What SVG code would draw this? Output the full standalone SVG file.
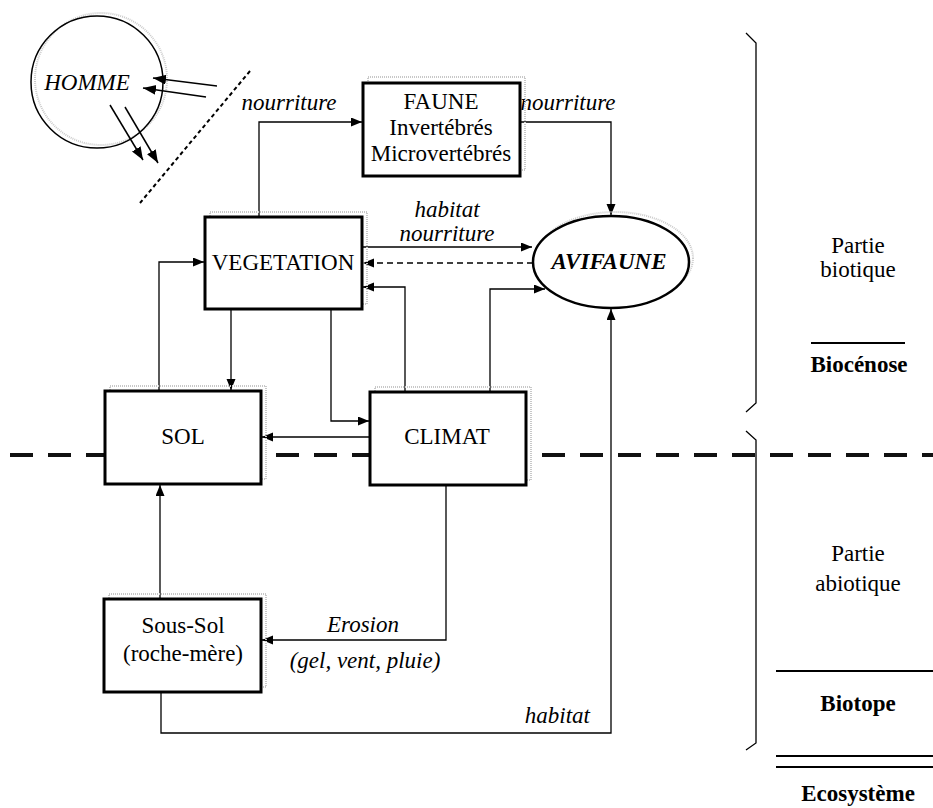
<svg xmlns="http://www.w3.org/2000/svg" width="933" height="808" viewBox="0 0 933 808">
<defs>
<marker id="ah" markerUnits="userSpaceOnUse" markerWidth="12" markerHeight="10" refX="11" refY="4.5" orient="auto"><path d="M0,0 L11,4.5 L0,9 z" fill="#000"/></marker>
<marker id="ahb" markerUnits="userSpaceOnUse" markerWidth="14" markerHeight="12" refX="13" refY="5" orient="auto"><path d="M0,0 L13,5 L0,10 z" fill="#000"/></marker>
</defs>
<style>
text{font-family:"Liberation Serif","Times New Roman",serif;fill:#000;font-size:23px}
.it{font-style:italic}
.bd{font-weight:bold}
.box{fill:#fff;stroke:#000;stroke-width:3}
.sh{fill:none;stroke:#c8c8c8;stroke-width:2;stroke-dasharray:1 1}
.c{fill:none;stroke:#000;stroke-width:1.3}
.m{text-anchor:middle}
</style>
<rect width="933" height="808" fill="#fff"/>

<g id="separator">
<line x1="10" y1="455" x2="933" y2="455" stroke="#111" stroke-width="4" stroke-dasharray="23 15"/>
</g>

<g id="homme">
<circle cx="101" cy="79" r="66" fill="none" stroke="#ccc" stroke-width="2" stroke-dasharray="1 1"/>
<circle cx="97" cy="82" r="66" fill="none" stroke="#000" stroke-width="1.5"/>
<text class="it m" x="87" y="90" font-size="24">HOMME</text>
<line x1="250" y1="71" x2="140" y2="203" stroke="#000" stroke-width="2" stroke-dasharray="4 3"/>
<line x1="217" y1="86" x2="153" y2="78" stroke="#000" stroke-width="1.5" marker-end="url(#ahb)"/>
<line x1="206" y1="97" x2="143" y2="88" stroke="#000" stroke-width="1.5" marker-end="url(#ahb)"/>
<line x1="110" y1="105" x2="143" y2="160" stroke="#000" stroke-width="1.5" marker-end="url(#ahb)"/>
<line x1="125" y1="107" x2="158" y2="163" stroke="#000" stroke-width="1.5" marker-end="url(#ahb)"/>
</g>

<g id="connectors">
<path class="c" d="M259,217 V122 H362" marker-end="url(#ah)"/>
<text class="it m" x="289" y="110">nourriture</text>
<path class="c" d="M520,122 H611 V215" marker-end="url(#ah)"/>
<text class="it m" x="568" y="110">nourriture</text>
<path class="c" d="M362,247 H532" marker-end="url(#ah)"/>
<text class="it m" x="447" y="217">habitat</text>
<text class="it m" x="447" y="241">nourriture</text>
<path class="c" d="M533,263 H363" stroke-dasharray="6 4" marker-end="url(#ah)"/>
<path class="c" d="M405,392 V287 H363" marker-end="url(#ah)"/>
<path class="c" d="M490,392 V289 H545" marker-end="url(#ah)"/>
<path class="c" d="M231,309 V390" marker-end="url(#ah)"/>
<path class="c" d="M331,309 V421 H369" marker-end="url(#ah)"/>
<path class="c" d="M159,391 V262 H204" marker-end="url(#ah)"/>
<path class="c" d="M370,437 H262" marker-end="url(#ah)"/>
<path class="c" d="M160,599 V485" marker-end="url(#ah)"/>
<path class="c" d="M446,485 V640 H262" marker-end="url(#ah)"/>
<text class="it m" x="363" y="632">Erosion</text>
<text class="it m" x="365" y="668">(gel, vent, pluie)</text>
<path class="c" d="M161,692 V733 H611 V309" marker-end="url(#ah)"/>
<text class="it" x="590" y="723" text-anchor="end">habitat</text>
</g>

<g id="faune">
<rect class="sh" x="368" y="77" width="157" height="93"/>
<rect class="box" x="363" y="83" width="157" height="93"/>
<text class="m" x="441" y="109">FAUNE</text>
<text class="m" x="441" y="135">Invertébrés</text>
<text class="m" x="441" y="161">Microvertébrés</text>
</g>

<g id="vegetation">
<rect class="sh" x="210" y="212" width="157" height="92"/>
<rect class="box" x="205" y="217" width="157" height="92"/>
<text class="m" x="283" y="270">VEGETATION</text>
</g>

<g id="avifaune">
<ellipse cx="615" cy="258" rx="78" ry="46" fill="none" stroke="#ccc" stroke-width="2" stroke-dasharray="1 1"/>
<ellipse cx="611" cy="262" rx="78" ry="46" fill="#fff" stroke="#000" stroke-width="2.5"/>
<text class="it bd m" x="609" y="269">AVIFAUNE</text>
</g>

<g id="sol">
<rect class="sh" x="110" y="386" width="156" height="93"/>
<rect class="box" x="105" y="391" width="156" height="93"/>
<text class="m" x="183" y="444">SOL</text>
</g>

<g id="climat">
<rect class="sh" x="375" y="387" width="156" height="93"/>
<rect class="box" x="370" y="392" width="156" height="93"/>
<text class="m" x="447" y="444">CLIMAT</text>
</g>

<g id="soussol">
<rect class="sh" x="109" y="594" width="157" height="93"/>
<rect class="box" x="104" y="599" width="157" height="93"/>
<text class="m" x="183" y="633">Sous-Sol</text>
<text class="m" x="183" y="661">(roche-mère)</text>
</g>

<g id="legend">
<path d="M746,33 L756,43 L756,403 L746,412" fill="none" stroke="#000" stroke-width="1.3"/>
<path d="M746,431 L756,440 L756,743 L746,750" fill="none" stroke="#000" stroke-width="1.3"/>
<text class="m" x="858" y="253">Partie</text>
<text class="m" x="858" y="277">biotique</text>
<line x1="811" y1="343" x2="905" y2="343" stroke="#000" stroke-width="1.8"/>
<text class="bd m" x="859" y="372">Biocénose</text>
<text class="m" x="858" y="561">Partie</text>
<text class="m" x="858" y="591">abiotique</text>
<line x1="776" y1="671" x2="933" y2="671" stroke="#000" stroke-width="1.8"/>
<text class="bd m" x="858" y="711">Biotope</text>
<line x1="776" y1="756" x2="933" y2="756" stroke="#000" stroke-width="1.8"/>
<line x1="776" y1="767" x2="933" y2="767" stroke="#000" stroke-width="1.8"/>
<text class="bd m" x="858" y="801">Ecosystème</text>
</g>
</svg>
